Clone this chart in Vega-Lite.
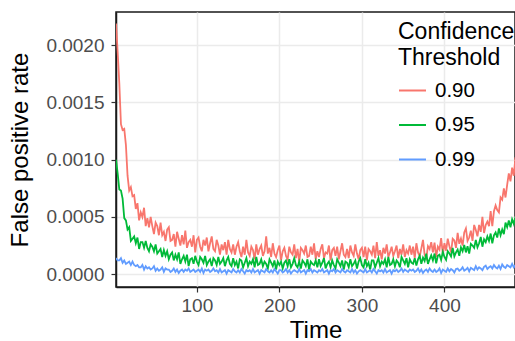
{
"$schema":"https://vega.github.io/schema/vega-lite/v6.json",
"width":399,"height":275,
"autosize":{"type":"none"},
"padding":{"left":116,"top":12,"right":0,"bottom":54},
"background":"white",
"config":{"font":"Liberation Sans","view":{"stroke":"#1a1a1a","strokeWidth":1.5}},
"data":{"values":[
{"t":2,"a":219e-5,"b":100e-5,"c":14e-5},
{"t":4,"a":194e-5,"b":88e-5,"c":12e-5},
{"t":6,"a":167e-5,"b":74e-5,"c":12e-5},
{"t":8,"a":131e-5,"b":73e-5,"c":14e-5},
{"t":10,"a":126e-5,"b":66e-5,"c":10e-5},
{"t":12,"a":127e-5,"b":49e-5,"c":12e-5},
{"t":14,"a":113e-5,"b":47e-5,"c":9e-5},
{"t":16,"a":86e-5,"b":39e-5,"c":10e-5},
{"t":18,"a":73e-5,"b":41e-5,"c":11e-5},
{"t":20,"a":76e-5,"b":29e-5,"c":8e-5},
{"t":22,"a":68e-5,"b":31e-5,"c":11e-5},
{"t":24,"a":69e-5,"b":33e-5,"c":8e-5},
{"t":26,"a":57e-5,"b":27e-5,"c":7e-5},
{"t":28,"a":62e-5,"b":32e-5,"c":8e-5},
{"t":30,"a":47e-5,"b":22e-5,"c":6e-5},
{"t":32,"a":54e-5,"b":28e-5,"c":6e-5},
{"t":34,"a":50e-5,"b":28e-5,"c":8e-5},
{"t":36,"a":58e-5,"b":23e-5,"c":4e-5},
{"t":38,"a":42e-5,"b":29e-5,"c":7e-5},
{"t":40,"a":49e-5,"b":23e-5,"c":5e-5},
{"t":42,"a":41e-5,"b":20e-5,"c":6e-5},
{"t":44,"a":50e-5,"b":26e-5,"c":4e-5},
{"t":46,"a":42e-5,"b":24e-5,"c":5e-5},
{"t":48,"a":35e-5,"b":20e-5,"c":7e-5},
{"t":50,"a":45e-5,"b":26e-5,"c":3e-5},
{"t":52,"a":42e-5,"b":18e-5,"c":5e-5},
{"t":54,"a":34e-5,"b":20e-5,"c":3e-5},
{"t":56,"a":45e-5,"b":22e-5,"c":4e-5},
{"t":58,"a":34e-5,"b":15e-5,"c":6e-5},
{"t":60,"a":37e-5,"b":21e-5,"c":2e-5},
{"t":62,"a":29e-5,"b":16e-5,"c":5e-5},
{"t":64,"a":39e-5,"b":20e-5,"c":4e-5},
{"t":66,"a":41e-5,"b":13e-5,"c":4e-5},
{"t":68,"a":29e-5,"b":17e-5,"c":2e-5},
{"t":70,"a":30e-5,"b":19e-5,"c":3e-5},
{"t":72,"a":35e-5,"b":12e-5,"c":5e-5},
{"t":74,"a":24e-5,"b":17e-5,"c":2e-5},
{"t":76,"a":37e-5,"b":13e-5,"c":4e-5},
{"t":78,"a":31e-5,"b":19e-5,"c":1e-5},
{"t":80,"a":25e-5,"b":9e-5,"c":3e-5},
{"t":82,"a":34e-5,"b":13e-5,"c":4e-5},
{"t":84,"a":26e-5,"b":16e-5,"c":2e-5},
{"t":86,"a":38e-5,"b":11e-5,"c":4e-5},
{"t":88,"a":23e-5,"b":17e-5,"c":3e-5},
{"t":90,"a":28e-5,"b":7e-5,"c":5e-5},
{"t":92,"a":30e-5,"b":13e-5,"c":2e-5},
{"t":94,"a":24e-5,"b":14e-5,"c":3e-5},
{"t":96,"a":34e-5,"b":9e-5,"c":4e-5},
{"t":98,"a":19e-5,"b":16e-5,"c":2e-5},
{"t":100,"a":30e-5,"b":11e-5,"c":3e-5},
{"t":102,"a":32e-5,"b":8e-5,"c":4e-5},
{"t":104,"a":24e-5,"b":15e-5,"c":2e-5},
{"t":106,"a":20e-5,"b":13e-5,"c":5e-5},
{"t":108,"a":30e-5,"b":10e-5,"c":1e-5},
{"t":110,"a":25e-5,"b":16e-5,"c":4e-5},
{"t":112,"a":32e-5,"b":8e-5,"c":3e-5},
{"t":114,"a":20e-5,"b":11e-5,"c":4e-5},
{"t":116,"a":27e-5,"b":13e-5,"c":2e-5},
{"t":118,"a":33e-5,"b":7e-5,"c":3e-5},
{"t":120,"a":22e-5,"b":14e-5,"c":5e-5},
{"t":122,"a":20e-5,"b":12e-5,"c":2.5e-5},
{"t":124,"a":30e-5,"b":8e-5,"c":3.5e-5},
{"t":126,"a":25e-5,"b":15e-5,"c":1.5e-5},
{"t":128,"a":17e-5,"b":9e-5,"c":4.5e-5},
{"t":130,"a":26e-5,"b":11e-5,"c":1.5e-5},
{"t":132,"a":21e-5,"b":14e-5,"c":2.5e-5},
{"t":134,"a":28e-5,"b":7e-5,"c":3.5e-5},
{"t":136,"a":17e-5,"b":12e-5,"c":0.5e-5},
{"t":138,"a":30e-5,"b":15e-5,"c":3.5e-5},
{"t":140,"a":22e-5,"b":9e-5,"c":2.5e-5},
{"t":142,"a":19e-5,"b":7e-5,"c":1.5e-5},
{"t":144,"a":26e-5,"b":14e-5,"c":4.5e-5},
{"t":146,"a":17e-5,"b":8e-5,"c":2.5e-5},
{"t":148,"a":24e-5,"b":11e-5,"c":1.5e-5},
{"t":150,"a":28e-5,"b":5e-5,"c":3.5e-5},
{"t":152,"a":20e-5,"b":13e-5,"c":1.5e-5},
{"t":154,"a":15e-5,"b":12e-5,"c":4.5e-5},
{"t":156,"a":24e-5,"b":6e-5,"c":2.5e-5},
{"t":158,"a":17e-5,"b":10e-5,"c":0.5e-5},
{"t":160,"a":30e-5,"b":14e-5,"c":3.5e-5},
{"t":162,"a":19e-5,"b":7e-5,"c":2.5e-5},
{"t":164,"a":16e-5,"b":11e-5,"c":3.5e-5},
{"t":166,"a":24e-5,"b":9e-5,"c":1.5e-5},
{"t":168,"a":21e-5,"b":13e-5,"c":4.5e-5},
{"t":170,"a":13e-5,"b":6e-5,"c":1.5e-5},
{"t":172,"a":26e-5,"b":15e-5,"c":2.5e-5},
{"t":174,"a":17e-5,"b":8e-5,"c":3.5e-5},
{"t":176,"a":22e-5,"b":9e-5,"c":0.5e-5},
{"t":178,"a":25e-5,"b":13e-5,"c":3.5e-5},
{"t":180,"a":16e-5,"b":7e-5,"c":2.5e-5},
{"t":182,"a":20e-5,"b":11e-5,"c":1.5e-5},
{"t":184,"a":33e-5,"b":9e-5,"c":4.5e-5},
{"t":186,"a":18e-5,"b":5e-5,"c":2.5e-5},
{"t":188,"a":23e-5,"b":13e-5,"c":1.5e-5},
{"t":190,"a":15e-5,"b":10e-5,"c":3.5e-5},
{"t":192,"a":27e-5,"b":7e-5,"c":1.5e-5},
{"t":194,"a":18e-5,"b":12e-5,"c":4.5e-5},
{"t":196,"a":15e-5,"b":4e-5,"c":2.5e-5},
{"t":198,"a":21e-5,"b":11e-5,"c":0.5e-5},
{"t":200,"a":25e-5,"b":8e-5,"c":3.5e-5},
{"t":202,"a":12e-5,"b":11e-5,"c":3.5e-5},
{"t":204,"a":20e-5,"b":5e-5,"c":1.5e-5},
{"t":206,"a":23e-5,"b":10e-5,"c":2.5e-5},
{"t":208,"a":16e-5,"b":12e-5,"c":4.5e-5},
{"t":210,"a":13e-5,"b":7e-5,"c":1.5e-5},
{"t":212,"a":24e-5,"b":13e-5,"c":3.5e-5},
{"t":214,"a":19e-5,"b":6e-5,"c":0.5e-5},
{"t":216,"a":17e-5,"b":9e-5,"c":2.5e-5},
{"t":218,"a":26e-5,"b":14e-5,"c":3.5e-5},
{"t":220,"a":14e-5,"b":8e-5,"c":2.5e-5},
{"t":222,"a":22e-5,"b":6e-5,"c":1.5e-5},
{"t":224,"a":11e-5,"b":11e-5,"c":4.5e-5},
{"t":226,"a":23e-5,"b":5e-5,"c":1.5e-5},
{"t":228,"a":21e-5,"b":12e-5,"c":2.5e-5},
{"t":230,"a":18e-5,"b":10e-5,"c":3.5e-5},
{"t":232,"a":25e-5,"b":7e-5,"c":0.5e-5},
{"t":234,"a":15e-5,"b":13e-5,"c":3.5e-5},
{"t":236,"a":16e-5,"b":4e-5,"c":2.5e-5},
{"t":238,"a":24e-5,"b":11e-5,"c":4.5e-5},
{"t":240,"a":17e-5,"b":9e-5,"c":1.5e-5},
{"t":242,"a":27e-5,"b":8e-5,"c":3.5e-5},
{"t":244,"a":13e-5,"b":12e-5,"c":2.5e-5},
{"t":246,"a":20e-5,"b":6e-5,"c":1.5e-5},
{"t":248,"a":15e-5,"b":13e-5,"c":3.5e-5},
{"t":250,"a":22e-5,"b":7e-5,"c":2.5e-5},
{"t":252,"a":26e-5,"b":10e-5,"c":4.5e-5},
{"t":254,"a":14e-5,"b":14e-5,"c":1.5e-5},
{"t":256,"a":19e-5,"b":5e-5,"c":2.5e-5},
{"t":258,"a":18e-5,"b":9e-5,"c":3.5e-5},
{"t":260,"a":25e-5,"b":11e-5,"c":0.5e-5},
{"t":262,"a":12e-5,"b":6e-5,"c":3.5e-5},
{"t":264,"a":21e-5,"b":12e-5,"c":2.5e-5},
{"t":266,"a":23e-5,"b":8e-5,"c":4.5e-5},
{"t":268,"a":16e-5,"b":5e-5,"c":1.5e-5},
{"t":270,"a":24e-5,"b":13e-5,"c":3.5e-5},
{"t":272,"a":13e-5,"b":10e-5,"c":2.5e-5},
{"t":274,"a":20e-5,"b":7e-5,"c":1.5e-5},
{"t":276,"a":27e-5,"b":12e-5,"c":4.5e-5},
{"t":278,"a":17e-5,"b":4e-5,"c":2.5e-5},
{"t":280,"a":15e-5,"b":11e-5,"c":1.5e-5},
{"t":282,"a":22e-5,"b":10e-5,"c":3.5e-5},
{"t":284,"a":14e-5,"b":6e-5,"c":2.5e-5},
{"t":286,"a":25e-5,"b":13e-5,"c":1.5e-5},
{"t":288,"a":19e-5,"b":7e-5,"c":4.5e-5},
{"t":290,"a":16e-5,"b":9e-5,"c":1.5e-5},
{"t":292,"a":26e-5,"b":12e-5,"c":3.5e-5},
{"t":294,"a":18e-5,"b":5e-5,"c":0.5e-5},
{"t":296,"a":13e-5,"b":11e-5,"c":2.5e-5},
{"t":298,"a":21e-5,"b":14e-5,"c":3.5e-5},
{"t":300,"a":23e-5,"b":8e-5,"c":2.5e-5},
{"t":302,"a":15e-5,"b":6e-5,"c":1.5e-5},
{"t":304,"a":24e-5,"b":13e-5,"c":4.5e-5},
{"t":306,"a":12e-5,"b":7e-5,"c":1.5e-5},
{"t":308,"a":22e-5,"b":10e-5,"c":2.5e-5},
{"t":310,"a":20e-5,"b":4e-5,"c":3.5e-5},
{"t":312,"a":17e-5,"b":12e-5,"c":1.5e-5},
{"t":314,"a":25e-5,"b":12e-5,"c":4.5e-5},
{"t":316,"a":14e-5,"b":6e-5,"c":2.5e-5},
{"t":318,"a":28e-5,"b":10e-5,"c":0.5e-5},
{"t":320,"a":16e-5,"b":14e-5,"c":3.5e-5},
{"t":322,"a":21e-5,"b":7e-5,"c":2.5e-5},
{"t":324,"a":13e-5,"b":11e-5,"c":3.5e-5},
{"t":326,"a":23e-5,"b":9e-5,"c":1.5e-5},
{"t":328,"a":18e-5,"b":13e-5,"c":4.5e-5},
{"t":330,"a":26e-5,"b":6e-5,"c":1.5e-5},
{"t":332,"a":15e-5,"b":15e-5,"c":2.5e-5},
{"t":334,"a":19e-5,"b":8e-5,"c":3.5e-5},
{"t":336,"a":24e-5,"b":9e-5,"c":0.5e-5},
{"t":338,"a":16e-5,"b":13e-5,"c":3.5e-5},
{"t":340,"a":20e-5,"b":7e-5,"c":2.5e-5},
{"t":342,"a":25e-5,"b":12e-5,"c":4e-5},
{"t":344,"a":14e-5,"b":10e-5,"c":2e-5},
{"t":346,"a":22e-5,"b":6e-5,"c":3e-5},
{"t":348,"a":17e-5,"b":15e-5,"c":5e-5},
{"t":350,"a":26e-5,"b":12e-5,"c":2e-5},
{"t":352,"a":15e-5,"b":9e-5,"c":4e-5},
{"t":354,"a":21e-5,"b":14e-5,"c":3e-5},
{"t":356,"a":18e-5,"b":6e-5,"c":2e-5},
{"t":358,"a":25e-5,"b":13e-5,"c":4e-5},
{"t":360,"a":17e-5,"b":10e-5,"c":3e-5},
{"t":362,"a":24e-5,"b":9e-5,"c":4e-5},
{"t":364,"a":14e-5,"b":14e-5,"c":2e-5},
{"t":366,"a":27e-5,"b":7.5e-5,"c":3e-5},
{"t":368,"a":19e-5,"b":13e-5,"c":5e-5},
{"t":370,"a":15.5e-5,"b":16e-5,"c":2e-5},
{"t":372,"a":22.5e-5,"b":9e-5,"c":4e-5},
{"t":374,"a":30e-5,"b":14.5e-5,"c":1e-5},
{"t":376,"a":17e-5,"b":11.5e-5,"c":3e-5},
{"t":378,"a":14e-5,"b":18e-5,"c":4e-5},
{"t":380,"a":24.5e-5,"b":9e-5,"c":2e-5},
{"t":382,"a":22e-5,"b":13e-5,"c":5e-5},
{"t":384,"a":28e-5,"b":16.5e-5,"c":3e-5},
{"t":386,"a":19e-5,"b":12e-5,"c":2e-5},
{"t":388,"a":27.5e-5,"b":18e-5,"c":4e-5},
{"t":390,"a":15e-5,"b":9.5e-5,"c":2e-5},
{"t":392,"a":24e-5,"b":16e-5,"c":3e-5},
{"t":394,"a":21.5e-5,"b":17e-5,"c":5e-5},
{"t":396,"a":31.5e-5,"b":12.5e-5,"c":1e-5},
{"t":398,"a":18e-5,"b":19.5e-5,"c":4e-5},
{"t":400,"a":27e-5,"b":15e-5,"c":3e-5},
{"t":402,"a":20.5e-5,"b":12.5e-5,"c":2e-5},
{"t":404,"a":31e-5,"b":20e-5,"c":5e-5},
{"t":406,"a":24.5e-5,"b":18e-5,"c":2.5e-5},
{"t":408,"a":19e-5,"b":15.5e-5,"c":4.5e-5},
{"t":410,"a":31e-5,"b":23e-5,"c":3.5e-5},
{"t":412,"a":29.5e-5,"b":15.5e-5,"c":1.5e-5},
{"t":414,"a":23e-5,"b":19e-5,"c":4.5e-5},
{"t":416,"a":36e-5,"b":21.5e-5,"c":5e-5},
{"t":418,"a":26.5e-5,"b":16e-5,"c":3e-5},
{"t":420,"a":31e-5,"b":23.5e-5,"c":4e-5},
{"t":422,"a":25e-5,"b":20e-5,"c":6e-5},
{"t":424,"a":36.5e-5,"b":25.5e-5,"c":3e-5},
{"t":426,"a":40e-5,"b":19e-5,"c":4e-5},
{"t":428,"a":29e-5,"b":24.5e-5,"c":5.5e-5},
{"t":430,"a":32e-5,"b":18e-5,"c":2.5e-5},
{"t":432,"a":38e-5,"b":26.5e-5,"c":5.5e-5},
{"t":434,"a":29e-5,"b":25e-5,"c":4.5e-5},
{"t":436,"a":43e-5,"b":23e-5,"c":3.5e-5},
{"t":438,"a":38.5e-5,"b":30e-5,"c":7e-5},
{"t":440,"a":33e-5,"b":23.5e-5,"c":4e-5},
{"t":442,"a":43e-5,"b":27e-5,"c":6e-5},
{"t":444,"a":37e-5,"b":32.5e-5,"c":5e-5},
{"t":446,"a":50e-5,"b":24e-5,"c":3.5e-5},
{"t":448,"a":36e-5,"b":30.5e-5,"c":6.5e-5},
{"t":450,"a":43e-5,"b":28e-5,"c":7.5e-5},
{"t":452,"a":46e-5,"b":33e-5,"c":4.5e-5},
{"t":454,"a":42e-5,"b":29e-5,"c":6e-5},
{"t":456,"a":55e-5,"b":35.5e-5,"c":7e-5},
{"t":458,"a":42e-5,"b":27e-5,"c":5e-5},
{"t":460,"a":55e-5,"b":34e-5,"c":8e-5},
{"t":462,"a":60e-5,"b":36.5e-5,"c":6e-5},
{"t":464,"a":56e-5,"b":32e-5,"c":5e-5},
{"t":466,"a":54e-5,"b":40e-5,"c":7.5e-5},
{"t":468,"a":67e-5,"b":34e-5,"c":4.5e-5},
{"t":470,"a":65e-5,"b":39e-5,"c":8.5e-5},
{"t":472,"a":75e-5,"b":35e-5,"c":6.5e-5},
{"t":474,"a":67e-5,"b":45e-5,"c":5.5e-5},
{"t":476,"a":78e-5,"b":41e-5,"c":8e-5},
{"t":478,"a":88e-5,"b":47e-5,"c":7e-5},
{"t":480,"a":81e-5,"b":41e-5,"c":6e-5},
{"t":482,"a":93e-5,"b":48e-5,"c":9e-5},
{"t":484,"a":86e-5,"b":44e-5,"c":6e-5},
{"t":486,"a":102e-5,"b":50e-5,"c":8e-5}
]},
"transform":[{"fold":["a","b","c"],"as":["k","v"]}],
"mark":{"type":"line","strokeWidth":1.8,"clip":true},
"encoding":{
"x":{"field":"t","type":"quantitative","scale":{"domain":[2,485.5],"nice":false,"zero":false},
"axis":{"title":"Time","values":[100,200,300,400],"grid":true,"gridColor":"#EBEBEB","gridWidth":1.5,"domainColor":"#1a1a1a","domainWidth":1.5,"tickColor":"#333333","tickSize":5,"tickWidth":1.2,"labelFontSize":19,"labelColor":"#4D4D4D","labelPadding":4,"titleFontSize":24,"titleFontWeight":"normal","titleColor":"#000000","titlePadding":3}},
"y":{"field":"v","type":"quantitative","scale":{"domain":[-0.000112,0.00229],"nice":false,"zero":false},
"axis":{"title":"False positive rate","values":[0,0.0005,0.001,0.0015,0.002],"format":".4f","grid":true,"gridColor":"#EBEBEB","gridWidth":1.5,"domainColor":"#1a1a1a","domainWidth":1.5,"tickColor":"#333333","tickSize":5,"tickWidth":1.2,"labelFontSize":19,"labelColor":"#4D4D4D","labelPadding":7,"titleFontSize":24,"titleFontWeight":"normal","titleColor":"#000000","titlePadding":13}},
"color":{"field":"k","type":"nominal","scale":{"domain":["a","b","c"],"range":["#F8766D","#00BA38","#619CFF"]},
"legend":{"title":["Confidence","Threshold"],"orient":"none","legendX":282,"legendY":9,"padding":0,"titleFontSize":23,"titleFontWeight":"normal","titleColor":"#000000","titleLineHeight":26,"titlePadding":6,"labelFontSize":20.5,"labelColor":"#000000","labelOffset":8,"symbolType":"stroke","symbolSize":729,"symbolStrokeWidth":2,"rowPadding":9.5,
"labelExpr":"datum.label == 'a' ? '0.90' : datum.label == 'b' ? '0.95' : '0.99'"}}
}
}
